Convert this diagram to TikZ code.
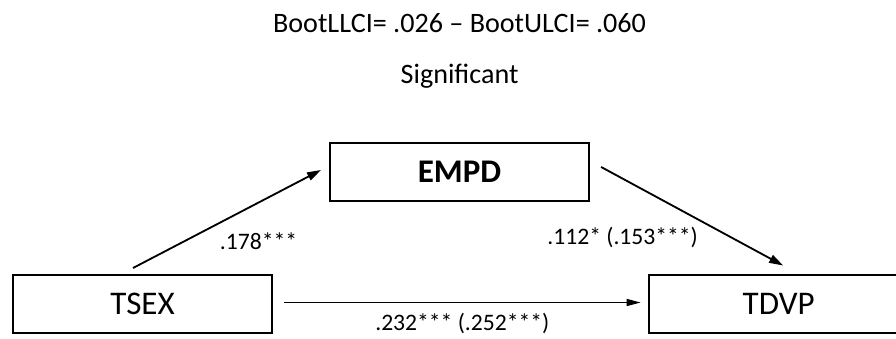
\documentclass[tikz,border=0pt]{standalone}
\usepackage{fontspec}
\setmainfont{Carlito}
\usepackage{tikz}
\usetikzlibrary{positioning,calc}
\usetikzlibrary{arrows.meta}

\begin{document}
\begin{tikzpicture}[x=0.025cm,y=0.025cm,on grid,
    var/.style={draw,line width=1.4pt,minimum width=6.475cm,minimum height=1.45cm,inner sep=0pt,font=\fontsize{23.5}{28}\selectfont},
    coef/.style={font=\fontsize{16.8}{20}\selectfont,inner sep=0pt},
    path/.style={line width=1.3pt,-{Triangle[length=10pt,width=6pt]}}]
   \useasboundingbox (-142.5,-34) rectangle (753.5,304);
   \node[var] (tsex) at (0,0) {TSEX};
   \node[var,font=\fontsize{23.5}{28}\selectfont\bfseries] (empd) [above right=3.3cm and 7.925cm of tsex] {EMPD};
   \node[var] (tdvp) [right=15.9cm of tsex] {TDVP};
   \node[font=\fontsize{20}{24}\selectfont] (sig) [above=2.4cm of empd] {Significant};
   \node[font=\fontsize{20}{24}\selectfont] (boot) [above=1.325cm of sig] {BootLLCI= .026 -- BootULCI= .060};
    \draw[path] ($(tsex.north)+(-9.5,6)$) -- node[coef,shift={(31.5,-22.5)}] (a) {.178***} ($(empd.west)+(-8,2)$);
    \draw[path] ($(empd.east)+(11,5)$) -- node[coef,shift={(-69.5,-21.5)}] (b) {.112* (.153***)} ($(tdvp.north)+(4.5,8.5)$);
    \draw[path,line width=1pt,-{Triangle[length=10pt,width=5pt]}] ($(tsex.east)+(11,1.5)$) -- node[coef,shift={(0,-21)}] (c) {.232*** (.252***)} ($(tdvp.west)+(-7.5,1.5)$);
\end{tikzpicture}
\end{document}
